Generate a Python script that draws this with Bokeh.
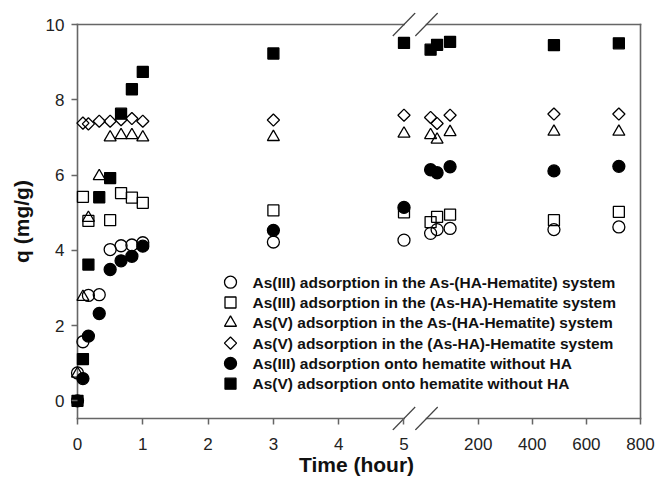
import math
from bokeh.plotting import figure
from bokeh.models import Range1d, FixedTicker, CustomJSTickFormatter, Title
from bokeh.core.properties import value
from bokeh.embed import file_html
from bokeh.resources import INLINE

# ---------------- data (time in hours, q in mg/g) ----------------
t_as3_as_hahem = [0, 0.083, 0.167, 0.333, 0.5, 0.667, 0.833, 1, 3, 5, 24, 48, 96, 480, 720]
q_as3_as_hahem = [0.74, 1.57, 2.80, 2.82, 4.02, 4.12, 4.14, 4.20, 4.22, 4.27, 4.45, 4.55, 4.58, 4.55, 4.62]

t_as3_asha_hem = [0.083, 0.167, 0.5, 0.667, 0.833, 1, 3, 5, 24, 48, 96, 480, 720]
q_as3_asha_hem = [5.42, 4.78, 4.80, 5.52, 5.40, 5.26, 5.06, 5.01, 4.75, 4.89, 4.95, 4.80, 5.02]

t_as5_as_hahem = [0, 0.083, 0.167, 0.333, 0.5, 0.667, 0.833, 1, 3, 5, 24, 48, 96, 480, 720]
q_as5_as_hahem = [0.72, 2.76, 4.86, 5.97, 7.00, 7.06, 7.06, 7.00, 7.01, 7.10, 7.06, 6.94, 7.14, 7.15, 7.15]

t_as5_asha_hem = [0.083, 0.167, 0.333, 0.5, 0.667, 0.833, 1, 3, 5, 24, 48, 96, 480, 720]
q_as5_asha_hem = [7.38, 7.36, 7.43, 7.43, 7.47, 7.50, 7.43, 7.46, 7.59, 7.53, 7.37, 7.59, 7.62, 7.62]

t_as3_noha = [0, 0.083, 0.167, 0.333, 0.5, 0.667, 0.833, 1, 3, 5, 24, 48, 96, 480, 720]
q_as3_noha = [0, 0.59, 1.72, 2.32, 3.49, 3.72, 3.84, 4.11, 4.53, 5.14, 6.14, 6.06, 6.22, 6.11, 6.23]

t_as5_noha = [0, 0.083, 0.167, 0.333, 0.5, 0.667, 0.833, 1, 3, 5, 24, 48, 96, 480, 720]
q_as5_noha = [0, 1.11, 3.62, 5.41, 5.92, 7.63, 8.28, 8.74, 9.23, 9.51, 9.33, 9.46, 9.54, 9.45, 9.50]

legend_labels = [
    "As(III) adsorption in the As-(HA-Hematite) system",
    "As(III) adsorption in the (As-HA)-Hematite system",
    "As(V) adsorption in the As-(HA-Hematite) system",
    "As(V) adsorption in the (As-HA)-Hematite system",
    "As(III) adsorption onto hematite without HA",
    "As(V) adsorption onto hematite without HA",
]
x_tick_hours = [0, 1, 2, 3, 4, 5, 200, 400, 600, 800]
y_ticks = [0, 2, 4, 6, 8, 10]

# ---------------- broken time axis: 0-5 h linear, then 0-800 h compressed ----------------
BREAK_AT = 5.0
SEG2_ZERO = 5.308
SEG2_H_PER_UNIT = 241.4


def to_axis(t):
    return t if t <= BREAK_AT else SEG2_ZERO + t / SEG2_H_PER_UNIT


X_END = to_axis(800)
Y_MIN, Y_MAX = -0.47, 10.0
BREAK_U1, BREAK_U2 = 5.0, 5.345

# ---------------- page geometry ----------------
W, H = 658, 477
AX_L, AX_R, AX_T, AX_B = 77, 640, 24, 418
PAD_L, PAD_R, PAD_T, PAD_B = 7, 2, 12, 12
ppx = (AX_R - AX_L) / X_END
ppy = (AX_B - AX_T) / (Y_MAX - Y_MIN)


def px_to_u(px):
    return (px - AX_L) / ppx


def py_to_y(py):
    return Y_MAX - (py - AX_T) / ppy


FONT = "Liberation Sans"
LINE = "#666666"

p = figure(
    width=W, height=H,
    x_range=Range1d(-PAD_L / ppx, X_END + PAD_R / ppx),
    y_range=Range1d(Y_MIN - PAD_B / ppy, Y_MAX + PAD_T / ppy),
    min_border_left=AX_L - PAD_L, min_border_right=W - AX_R - PAD_R,
    min_border_top=AX_T - PAD_T, min_border_bottom=H - AX_B - PAD_B,
    output_backend="svg", toolbar_location=None,
)
p.outline_line_color = None
p.grid.visible = False
p.background_fill_color = "white"
p.border_fill_color = "white"

# x axis
xa = p.xaxis[0]
xa.ticker = FixedTicker(ticks=[to_axis(h) for h in x_tick_hours], minor_ticks=[])
xa.formatter = CustomJSTickFormatter(
    args=dict(brk=BREAK_AT, z=SEG2_ZERO, k=SEG2_H_PER_UNIT),
    code="if (tick <= brk + 1e-6) { return String(Math.round(tick)); } return String(Math.round((tick - z) * k));",
)
xa.axis_line_color = None
xa.major_tick_line_color = LINE
xa.major_tick_line_width = 1.5
xa.major_tick_in = PAD_B
xa.major_tick_out = -(PAD_B - 6)
xa.minor_tick_in = 0
xa.minor_tick_out = -(PAD_B - 6)
xa.minor_tick_line_color = None
xa.major_label_standoff = 7
xa.major_label_text_font = FONT
xa.major_label_text_font_size = "17px"
xa.major_label_text_color = "#222222"

xt = Title(text="Time (hour)", align="center", offset=16.5, vertical_align="top",
           text_font=FONT, text_font_size="21px", text_font_style="bold",
           text_color="#111111", standoff=0)
p.add_layout(xt, "below")

# y axis
ya = p.yaxis[0]
ya.ticker = FixedTicker(ticks=y_ticks, minor_ticks=[])
ya.axis_line_color = None
ya.major_tick_line_color = LINE
ya.major_tick_line_width = 1.5
ya.major_tick_in = PAD_L
ya.major_tick_out = -(PAD_L - 6)
ya.minor_tick_in = 0
ya.minor_tick_out = -(PAD_L - 6)
ya.minor_tick_line_color = None
ya.major_label_standoff = 6
ya.major_label_text_font = FONT
ya.major_label_text_font_size = "17px"
ya.major_label_text_color = "#222222"
ya.axis_label = "q (mg/g)"
ya.axis_label_text_font = FONT
ya.axis_label_text_font_size = "21px"
ya.axis_label_text_font_style = "bold"
ya.axis_label_text_color = "#111111"
ya.axis_label_standoff = 10

# frame lines with the axis break
fx0 = [0, X_END, 0, BREAK_U2, 0, BREAK_U2]
fy0 = [Y_MIN, Y_MIN, Y_MIN, Y_MIN, Y_MAX, Y_MAX]
fx1 = [0, X_END, BREAK_U1, X_END, BREAK_U1, X_END]
fy1 = [Y_MAX, Y_MAX, Y_MIN, Y_MIN, Y_MAX, Y_MAX]
p.segment(fx0, fy0, fx1, fy1, line_color=LINE, line_width=1.6, line_cap="square")

# break marks (double slash on bottom and top lines)
dxu, dyu = 11.2 / ppx, 11.5 / ppy
sx0, sy0, sx1, sy1 = [], [], [], []
for yl in (Y_MIN, Y_MAX):
    for ub in (BREAK_U1, BREAK_U2):
        sx0.append(ub - dxu); sy0.append(yl - dyu)
        sx1.append(ub + dxu); sy1.append(yl + dyu)
p.segment(sx0, sy0, sx1, sy1, line_color="#444444", line_width=1.2)

# series styles: marker, size, fill, angle
series = [
    (t_as3_as_hahem, q_as3_as_hahem, "circle", 12, None, 0.0),
    (t_as3_asha_hem, q_as3_asha_hem, "square", 11, None, 0.0),
    (t_as5_as_hahem, q_as5_as_hahem, "triangle", 12, None, 0.0),
    (t_as5_asha_hem, q_as5_asha_hem, "square", 8.6, None, math.pi / 4),
    (t_as3_noha, q_as3_noha, "circle", 12, "black", 0.0),
    (t_as5_noha, q_as5_noha, "square", 11, "black", 0.0),
]

for (tt, qq, mk, sz, fc, ang) in series:
    p.scatter([to_axis(t) for t in tt], qq, marker=mk, size=sz, angle=ang,
              fill_color=fc, line_color="black", line_width=1.3)

# legend (drawn as glyphs + text inside the frame, lower right)
LEG_MARK_PX, LEG_TEXT_PX, LEG_PY0, LEG_DY = 230, 252, 281.7, 20.3
for i, (tt, qq, mk, sz, fc, ang) in enumerate(series):
    yy = py_to_y(LEG_PY0 + i * LEG_DY)
    p.scatter([px_to_u(LEG_MARK_PX)], [yy], marker=mk, size=sz, angle=ang,
              fill_color=fc, line_color="black", line_width=1.3)
p.text(x=[px_to_u(LEG_TEXT_PX)] * len(legend_labels),
       y=[py_to_y(LEG_PY0 + i * LEG_DY) for i in range(len(legend_labels))],
       text=legend_labels, text_font=value(FONT), text_font_style="bold",
       text_font_size="15.5px", text_baseline="middle", text_align="left",
       text_color="#111111")

open("out.html", "w").write(file_html(p, INLINE))
